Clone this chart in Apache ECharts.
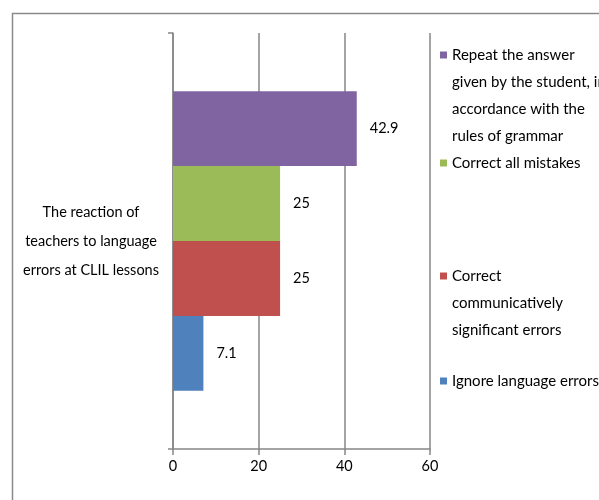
<!DOCTYPE html>
<html>
<head>
<meta charset="utf-8">
<script src="https://cdn.jsdelivr.net/npm/echarts@6/dist/echarts.min.js"></script>
<style>
html,body{margin:0;padding:0;background:#fff;}
#chart{width:599px;height:500px;}
</style>
</head>
<body>
<div id="chart"></div>
<script>
var categories = ['The reaction of\nteachers to language\nerrors at CLIL lessons'];
var seriesNames = ['Repeat the answer given by the student, in accordance with the rules of grammar', 'Correct all mistakes', 'Correct communicatively significant errors', 'Ignore language errors'];
var legendText = ['Repeat the answer\ngiven by the student, in\naccordance with the\nrules of grammar', 'Correct all mistakes', 'Correct\ncommunicatively\nsignificant errors', 'Ignore language errors'];
var seriesValues = [[42.9], [25], [25], [7.1]];
var colors = ['#8064A2', '#9BBB59', '#C0504D', '#4F81BD'];
var xTicks = [0, 20, 40, 60];

var FONT = "Lato, 'Open Sans', sans-serif";
var FS = 14.5;
var LH = 27;
// first-line centre for each legend item
var legendLineCenter = [55, 163, 276, 381];

var legends = seriesNames.map(function (name, i) {
  var n = legendText[i].split('\n').length;
  var txt = new Array(n).join('\n') + legendText[i];
  return {
    data: [name],
    left: 440,
    top: legendLineCenter[i] - (2 * n - 1) * LH / 2,
    padding: 0,
    itemWidth: 7,
    itemHeight: 7,
    icon: 'rect',
    formatter: function () { return txt; },
    textStyle: { fontFamily: FONT, fontSize: 15, color: '#000', lineHeight: LH }
  };
});

var chart = echarts.init(document.getElementById('chart'));
chart.setOption({
  animation: false,
  backgroundColor: '#fff',
  graphic: [{
    type: 'rect', left: 10, top: 11, silent: true,
    shape: { width: 700, height: 600 },
    style: { fill: 'none', stroke: '#8a8a8a', lineWidth: 1.5 }
  }],
  legend: legends,
  grid: { left: 173, right: 169, top: 33, bottom: 51, containLabel: false },
  xAxis: {
    type: 'value', min: xTicks[0], max: xTicks[xTicks.length - 1], interval: 20,
    axisLine: { show: true, lineStyle: { color: '#868686', width: 1.5 } },
    axisTick: { show: true, length: 6, lineStyle: { color: '#868686', width: 1.5 } },
    splitLine: { show: true, lineStyle: { color: '#868686', width: 1.5 } },
    axisLabel: { fontFamily: FONT, fontSize: FS, color: '#000', margin: 10 }
  },
  yAxis: {
    type: 'category', data: categories,
    axisLine: { show: true, lineStyle: { color: '#868686', width: 1.5 } },
    axisTick: { show: true, length: 5, lineStyle: { color: '#868686', width: 1.5 } },
    axisLabel: { fontFamily: FONT, fontSize: FS, color: '#000', align: 'center', margin: 82, lineHeight: 29 }
  },
  series: seriesNames.map(function (name, i) {
    return {
      type: 'bar', name: name, data: seriesValues[i],
      barGap: '0%', barCategoryGap: '28%',
      itemStyle: { color: colors[i] },
      label: { show: true, position: 'right', distance: 13, fontFamily: FONT, fontSize: FS, color: '#000' }
    };
  })
});
</script>
</body>
</html>
